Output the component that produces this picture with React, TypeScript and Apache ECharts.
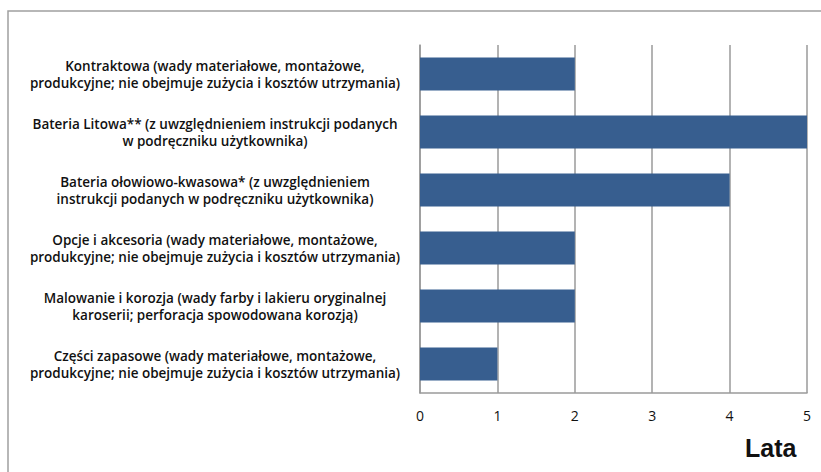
import React, { useEffect, useRef } from "react";
import * as echarts from "echarts";

const categories: string[] = [
  "Kontraktowa (wady materiałowe, montażowe,\nprodukcyjne; nie obejmuje zużycia i kosztów utrzymania)",
  "Bateria Litowa** (z uwzględnieniem instrukcji podanych\nw podręczniku użytkownika)",
  "Bateria ołowiowo-kwasowa* (z uwzględnieniem\ninstrukcji podanych w podręczniku użytkownika)",
  "Opcje i akcesoria (wady materiałowe, montażowe,\nprodukcyjne; nie obejmuje zużycia i kosztów utrzymania)",
  "Malowanie i korozja (wady farby i lakieru oryginalnej\nkaroserii; perforacja spowodowana korozją)",
  "Części zapasowe (wady materiałowe, montażowe,\nprodukcyjne; nie obejmuje zużycia i kosztów utrzymania)",
];
const years: number[] = [2, 5, 4, 2, 2, 1];
const axisTitle = "Lata";

export default function App() {
  const ref = useRef<HTMLDivElement>(null);
  useEffect(() => {
    if (!ref.current) return;
    const chart = echarts.init(ref.current, undefined, { renderer: "svg" });
    chart.setOption({
      animation: false,
      backgroundColor: "#ffffff",
      grid: { left: 420, right: 14, top: 45, bottom: 79, containLabel: false },
      xAxis: {
        type: "value",
        min: 0,
        max: 5,
        interval: 1,
        axisLine: { show: true, lineStyle: { color: "#9a9a9a", width: 1.5 } },
        axisTick: { show: false },
        splitLine: { show: true, lineStyle: { color: "#9a9a9a", width: 1.5 } },
        axisLabel: {
          margin: 15,
          fontSize: 14,
          color: "#111",
          fontFamily: "Open Sans",
        },
      },
      yAxis: {
        type: "category",
        inverse: true,
        data: categories,
        axisLine: { show: true, lineStyle: { color: "#9a9a9a", width: 1.5 } },
        axisTick: { show: false },
        axisLabel: {
          align: "center",
          margin: 205,
          fontSize: 13.5,
          fontWeight: 600,
          lineHeight: 17,
          color: "#111",
          fontFamily: "Open Sans",
        },
      },
      series: [
        {
          type: "bar",
          data: years,
          barCategoryGap: "43%",
          itemStyle: { color: "#375e8f" },
        },
      ],
      graphic: [
        {
          type: "polyline",
          shape: { points: [[8, 480], [8, 11], [830, 11]] },
          style: { fill: "none", stroke: "#a0a0a0", lineWidth: 1.5 },
          silent: true,
        },
        {
          type: "text",
          left: 745,
          top: 435,
          style: {
            text: axisTitle,
            fontSize: 25,
            fontWeight: "bold",
            fill: "#111",
            fontFamily: "Liberation Sans",
          },
        },
      ],
    });
    return () => chart.dispose();
  }, []);
  return (
    <div
      ref={ref}
      style={{ position: "absolute", left: 0, top: 0, width: 821, height: 472 }}
    />
  );
}
